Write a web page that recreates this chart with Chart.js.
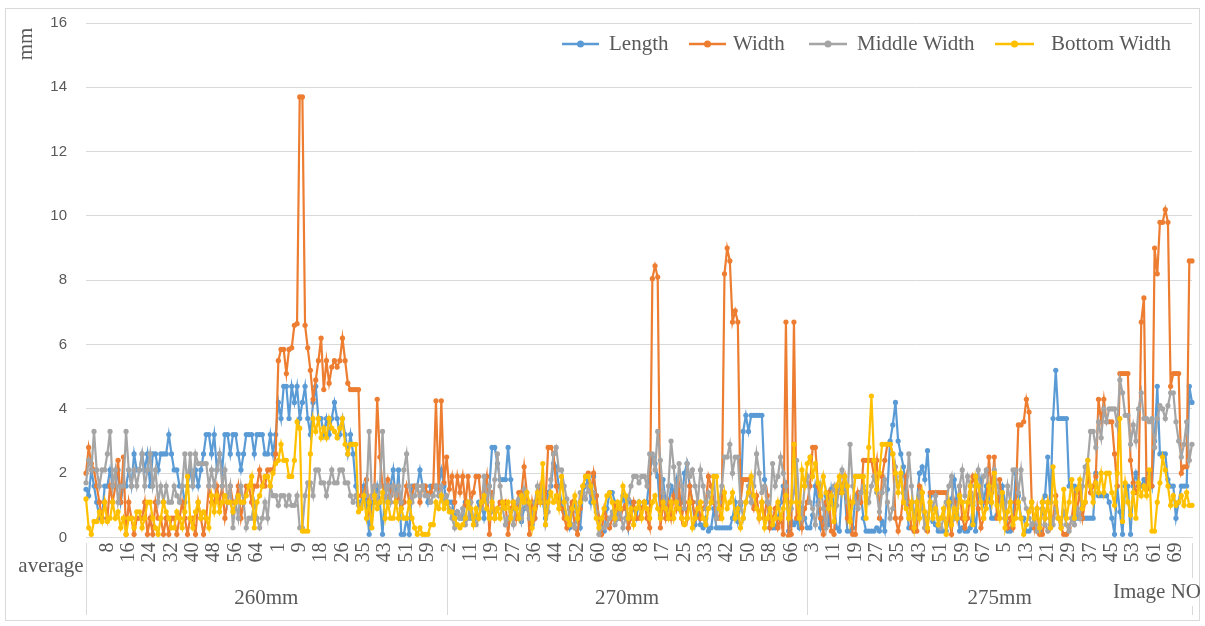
<!DOCTYPE html>
<html>
<head>
<meta charset="utf-8">
<script src="https://cdn.jsdelivr.net/npm/chart.js@4.4.0/dist/chart.umd.min.js"></script>
<style>
  html, body { margin: 0; padding: 0; background: #fff; }
</style>
</head>
<body>
<canvas id="widthChart" width="1205" height="626"></canvas>
<script>
const lengthMm = [
  1.5, 1.3, 2.1, 1.6, 1.1, 0.6, 0.6, 1.6, 1.6, 2.1,
  1.6, 1.6, 2.1, 1.1, 1.6, 1.6, 2.1, 1.6, 2.6, 2.1,
  2.1, 2.6, 2.1, 2.6, 1.6, 2.6, 2.6, 2.1, 2.6, 2.6,
  2.6, 3.2, 2.6, 2.1, 2.1, 1.6, 1.6, 1.1, 1.6, 2.1,
  1.6, 2.1, 1.6, 2.1, 2.6, 3.2, 3.2, 2.6, 3.2, 2.1,
  2.6, 2.1, 3.2, 3.2, 2.6, 3.2, 3.2, 2.6, 2.1, 2.6,
  3.2, 3.2, 3.2, 2.6, 3.2, 3.2, 3.2, 2.6, 2.6, 3.2,
  2.6, 3.2, 4.2, 3.7, 4.7, 4.7, 3.7, 4.7, 4.2, 4.7,
  3.7, 4.2, 4.7, 3.7, 3.2, 4.2, 4.7, 3.7, 3.7, 3.2,
  3.7, 3.2, 3.7, 4.2, 3.7, 3.2, 3.7, 3.2, 2.6, 3.2,
  2.6, 1.6, 1.1, 1.1, 1.6, 1.1, 0.1, 1.1, 1.1, 1.6,
  1.1, 0.1, 1.6, 1.1, 1.6, 2.1, 1.1, 2.1, 0.1, 0.1,
  0.6, 0.1, 1.6, 1.6, 1.6, 2.1, 1.6, 1.6, 1.1, 1.6,
  1.6, 1.6, 1.6, 2.1, 1.6, 1.1, 1.1, 1.1, 0.6, 0.8,
  0.6, 0.6, 1.1, 1.1, 0.6, 0.6, 0.6, 1.1, 1.1, 0.6,
  1.1, 1.6, 2.8, 2.8, 2.3, 1.8, 1.8, 1.8, 2.8, 1.8,
  0.9, 0.9, 1.1, 0.5, 0.9, 1.1, 0.6, 0.4, 0.6, 1.1,
  1.2, 1.1, 0.6, 1.4, 1.6, 2.3, 2.2, 1.6, 1.1, 0.8,
  0.6, 0.3, 0.8, 1.1, 0.5, 0.3, 1.4, 1.6, 1.8, 1.1,
  1.9, 1.3, 0.6, 0.3, 0.2, 0.9, 1.4, 1.4, 1.1, 0.6,
  0.9, 1.3, 0.9, 0.3, 1.1, 0.9, 0.6, 1.1, 0.9, 1.1,
  1.1, 2.0, 2.5, 2.3, 1.9, 0.7, 1.8, 1.1, 0.9, 1.6,
  1.4, 1.8, 0.9, 1.1, 2.0, 2.3, 1.6, 1.1, 0.4, 0.8,
  0.4, 0.3, 0.6, 0.2, 0.3, 0.9, 0.3, 0.3, 0.3, 0.3,
  0.3, 0.3, 0.6, 1.1, 0.5, 1.0, 3.3, 3.8, 3.3, 3.8,
  3.8, 3.8, 3.8, 3.8, 1.8, 1.1, 0.3, 0.3, 0.3, 0.6,
  1.1, 1.6, 1.7, 0.2, 0.5, 0.4, 0.5, 0.3, 0.9, 0.6,
  0.3, 0.3, 0.7, 1.6, 1.1, 0.3, 0.6, 1.3, 0.4, 1.5,
  1.0, 0.3, 0.2, 1.6, 1.4, 0.2, 0.2, 0.3, 1.3, 1.1,
  1.4, 0.6, 0.2, 0.2, 0.2, 0.2, 0.3, 0.2, 0.5, 0.2,
  1.5, 3.0, 3.5, 4.2, 3.0, 2.6, 2.2, 1.2, 0.3, 0.3,
  0.2, 1.1, 2.0, 2.2, 1.8, 2.7, 1.3, 0.5, 0.4, 0.2,
  0.2, 0.2, 0.2, 0.5, 1.2, 1.8, 1.2, 0.2, 0.3, 0.2,
  0.2, 0.3, 1.0, 0.2, 1.3, 1.8, 1.1, 1.6, 1.3, 0.6,
  0.6, 0.7, 1.3, 1.6, 1.1, 0.2, 0.2, 0.6, 2.0, 1.3,
  0.6, 0.6, 0.2, 0.2, 0.3, 0.6, 0.2, 0.2, 1.1, 1.3,
  2.5, 1.1, 3.7, 5.2, 3.7, 3.7, 3.7, 3.7, 1.6, 1.6,
  1.6, 0.6, 0.6, 0.6, 0.6, 0.6, 0.6, 0.6, 2.0, 1.3,
  1.3, 1.3, 1.3, 1.1, 0.6, 0.1, 1.6, 0.8, 0.1, 1.6,
  1.6, 0.1, 1.6, 2.0, 1.6, 1.6, 1.8, 1.6, 2.0, 1.6,
  3.0, 4.7, 2.6, 2.6, 2.6, 1.8, 1.6, 1.6, 0.6, 1.1,
  1.6, 1.6, 1.6, 4.7, 4.2
];
const widthMm = [
  2.0, 2.8, 2.3, 2.1, 1.6, 1.1, 0.6, 1.1, 0.6, 1.6,
  1.1, 1.6, 2.4, 1.1, 2.5, 0.1, 1.1, 0.6, 0.1, 0.6,
  0.6, 0.6, 1.1, 0.1, 0.6, 0.1, 1.1, 0.6, 0.6, 0.1,
  0.6, 0.1, 0.6, 0.6, 0.1, 0.6, 1.1, 0.6, 0.1, 0.6,
  0.6, 0.1, 1.1, 0.6, 0.1, 0.6, 1.6, 1.1, 1.1, 1.6,
  1.1, 1.6, 0.6, 1.1, 1.6, 1.1, 1.1, 1.6, 0.6, 1.1,
  1.6, 1.6, 1.1, 1.6, 1.6, 2.1, 1.6, 1.6, 2.1, 2.1,
  2.1, 2.6, 5.5, 5.85, 5.85, 5.1, 5.85, 5.9, 6.6, 6.65,
  13.7, 13.7, 6.6, 5.9, 5.2, 4.3, 4.9, 5.5, 6.2, 4.6,
  5.5, 4.8, 5.3, 5.5, 5.3, 5.5, 6.2, 5.5, 4.8, 4.6,
  4.6, 4.6, 4.6, 1.3, 1.3, 1.8, 0.8, 1.3, 1.6, 4.3,
  2.5, 1.6, 1.3, 1.8, 1.3, 1.6, 1.1, 1.3, 0.9, 1.1,
  1.6, 1.1, 1.3, 1.6, 1.6, 1.1, 1.6, 1.6, 1.3, 1.4,
  1.6, 4.25, 1.5, 4.25, 1.7, 2.5, 1.5, 1.9, 1.1, 1.9,
  1.4, 1.9, 1.0, 1.9, 1.1, 1.4, 1.9, 1.9, 1.0, 1.4,
  1.9, 0.1, 1.4, 0.6, 0.9, 1.1, 0.9, 1.1, 0.1, 0.9,
  1.1, 0.6, 1.4, 1.4, 2.2, 1.4, 0.1, 1.1, 0.6, 1.1,
  1.6, 1.1, 1.1, 2.8, 2.8, 2.6, 1.6, 1.1, 0.9, 0.6,
  0.3, 0.9, 1.1, 0.3, 0.1, 0.9, 1.6, 1.9, 2.0, 1.4,
  2.0, 1.3, 0.6, 0.1, 0.9, 0.6, 0.3, 0.6, 1.0, 0.9,
  0.6, 0.9, 1.0, 0.3, 0.6, 1.1, 0.6, 0.6, 0.9, 1.1,
  0.6, 0.3, 8.05, 8.45, 8.1, 0.3, 1.1, 0.6, 1.1, 0.6,
  1.3, 0.9, 1.6, 0.6, 1.1, 0.6, 1.6, 1.1, 0.6, 1.1,
  0.6, 0.9, 1.1, 1.9, 1.6, 1.1, 0.6, 0.6, 1.1, 8.2,
  9.0, 8.6, 6.7, 7.05, 6.7, 1.1, 1.8, 1.8, 1.8, 1.3,
  0.9, 1.3, 0.6, 1.1, 0.6, 1.3, 0.3, 0.6, 0.9, 0.3,
  0.6, 0.1, 6.7, 0.05, 0.1, 6.7, 0.6, 1.1, 0.3, 0.9,
  1.1, 1.6, 2.8, 2.8, 1.6, 0.6, 0.1, 1.1, 1.4, 0.2,
  0.1, 1.6, 1.4, 1.6, 1.9, 0.6, 1.1, 0.1, 0.1, 1.4,
  1.1, 2.4, 2.4, 2.4, 2.4, 1.9, 2.4, 0.6, 1.9, 2.4,
  2.9, 2.9, 2.6, 0.6, 0.2, 0.6, 1.4, 1.9, 1.1, 0.3,
  0.2, 0.2, 1.6, 1.4, 0.3, 0.2, 1.4, 1.4, 1.4, 1.4,
  1.4, 1.4, 1.4, 0.6, 0.1, 1.1, 0.6, 1.6, 0.6, 0.3,
  0.6, 1.4, 1.9, 1.6, 0.9, 0.3, 0.6, 1.1, 2.5, 1.4,
  2.5, 0.6, 1.8, 1.1, 0.6, 0.3, 0.6, 0.3, 1.1, 3.5,
  3.5, 3.6, 4.3, 3.9, 1.1, 0.3, 0.9, 0.1, 0.1, 0.6,
  1.1, 0.3, 0.6, 1.3, 0.6, 0.3, 0.1, 0.1, 0.3, 0.6,
  1.3, 0.9, 1.4, 0.6, 1.1, 2.0, 1.4, 1.6, 1.9, 4.3,
  3.6, 4.3, 3.6, 3.6, 3.6, 2.6, 1.6, 5.1, 5.1, 5.1,
  5.1, 2.4, 1.7, 1.4, 1.6, 6.7, 7.45, 1.5, 1.6, 1.6,
  9.0, 8.2, 9.8, 9.8, 10.2, 9.8, 4.7, 5.1, 5.1, 5.1,
  2.0, 2.2, 2.2, 8.6, 8.6
];
const middleWidthMm = [
  1.7, 2.4, 2.1, 3.3, 2.1, 1.6, 2.1, 2.1, 2.6, 3.3,
  1.6, 2.1, 1.1, 1.6, 1.6, 3.3, 2.1, 1.6, 2.1, 1.6,
  2.1, 2.6, 1.6, 2.1, 2.6, 1.6, 2.1, 1.1, 1.6, 1.1,
  1.6, 1.1, 1.1, 1.6, 1.3, 1.1, 1.6, 2.6, 1.6, 2.6,
  1.6, 2.6, 2.3, 2.3, 2.3, 2.3, 1.6, 2.1, 1.6, 2.1,
  2.6, 1.6, 2.1, 1.1, 1.6, 0.3, 1.1, 0.6, 1.6, 1.1,
  0.3, 0.6, 0.6, 1.1, 0.6, 0.3, 0.6, 1.1, 0.6, 1.6,
  1.3, 1.3, 1.0, 1.3, 1.3, 1.0, 1.3, 1.0, 1.0, 1.3,
  0.3, 0.3, 1.3, 1.7, 1.7, 1.3, 2.1, 2.1, 1.7, 1.7,
  1.3, 1.7, 2.1, 1.7, 1.7, 2.1, 2.1, 1.7, 1.7, 1.3,
  1.1, 1.3, 1.0, 1.0, 1.3, 1.3, 3.3, 1.3, 1.6, 1.1,
  1.6, 3.3, 1.3, 1.6, 1.1, 1.6, 1.3, 1.6, 1.1, 2.1,
  2.6, 1.6, 1.1, 1.3, 1.6, 1.3, 1.6, 1.3, 1.3, 1.1,
  1.3, 1.6, 1.3, 1.6, 1.1, 1.3, 0.9, 0.6, 0.3, 0.8,
  0.6, 0.9, 0.4, 0.6, 1.1, 0.6, 0.4, 0.6, 0.9, 1.9,
  1.1, 1.6, 0.8, 1.8, 2.6, 1.6, 0.9, 0.4, 0.6, 0.8,
  0.4, 1.1, 1.2, 0.6, 1.5, 0.9, 0.6, 0.6, 1.1, 1.6,
  1.1, 1.5, 0.4, 0.8, 1.8, 2.6, 2.8, 2.1, 2.1, 1.6,
  1.2, 0.6, 0.4, 0.3, 0.8, 1.4, 1.4, 1.2, 1.6, 1.4,
  1.4, 0.8, 0.1, 0.3, 0.3, 0.4, 0.6, 0.8, 0.4, 0.6,
  0.9, 0.3, 0.6, 1.2, 1.6, 1.9, 1.9, 1.7, 1.9, 1.9,
  1.6, 2.6, 2.6, 2.1, 3.3, 2.4, 1.4, 0.9, 1.6, 3.0,
  2.2, 1.1, 2.3, 1.6, 0.9, 2.3, 1.9, 2.1, 1.6, 1.1,
  2.1, 1.6, 0.9, 1.4, 1.1, 1.9, 0.6, 1.1, 1.6, 2.5,
  2.5, 2.9, 2.0, 2.5, 2.5, 1.1, 0.6, 1.1, 1.6, 1.1,
  1.6, 2.6, 2.0, 1.4, 1.6, 1.1, 0.8, 2.3, 1.6, 1.9,
  2.5, 2.0, 1.6, 0.6, 0.9, 1.4, 2.4, 1.1, 0.6, 1.6,
  1.9, 1.1, 0.9, 0.4, 1.0, 1.6, 0.9, 0.3, 1.1, 1.3,
  1.6, 1.0, 1.6, 2.1, 1.6, 1.1, 2.9, 1.6, 1.1, 0.9,
  1.4, 1.6, 1.4, 1.1, 1.6, 1.9, 1.4, 0.8, 1.4, 1.8,
  1.1, 0.6, 0.9, 2.2, 1.6, 1.9, 1.4, 1.1, 2.6, 1.6,
  0.6, 1.1, 1.4, 0.9, 0.3, 0.6, 1.1, 0.9, 1.3, 0.6,
  0.3, 0.6, 1.1, 1.6, 1.9, 0.6, 0.9, 1.6, 2.1, 1.3,
  1.9, 1.6, 1.1, 1.6, 2.1, 1.3, 1.9, 2.1, 1.6, 1.1,
  2.1, 1.6, 1.4, 1.1, 0.6, 1.6, 1.1, 2.1, 2.1, 1.4,
  2.1, 1.2, 0.9, 0.6, 0.4, 0.6, 0.2, 0.4, 0.9, 0.4,
  0.2, 0.6, 0.4, 0.9, 0.6, 0.4, 0.8, 0.4, 0.2, 0.6,
  0.4, 0.9, 0.6, 1.6, 2.2, 2.4, 3.3, 3.3, 2.8, 3.6,
  3.1, 4.0, 3.6, 4.0, 4.0, 4.0, 3.5, 4.9, 4.5, 3.8,
  3.8, 2.9, 3.5, 3.0, 4.0, 4.5, 3.7, 3.7, 3.6, 3.7,
  2.8, 3.7, 4.1, 4.0, 3.7, 4.1, 4.5, 4.5, 3.6, 3.0,
  2.5, 2.9, 3.6, 2.4, 2.9
];
const bottomWidthMm = [
  1.2, 0.3, 0.1, 0.5, 0.5, 0.8, 0.5, 1.1, 0.5, 0.6,
  1.1, 0.6, 0.8, 0.3, 0.6, 0.1, 0.6, 0.6, 0.3, 0.8,
  0.8, 0.3, 0.6, 1.1, 1.1, 0.6, 0.3, 0.1, 0.6, 1.1,
  0.8, 0.6, 0.3, 0.3, 0.8, 0.6, 0.3, 0.8, 1.9, 0.6,
  0.3, 0.8, 1.1, 0.6, 0.8, 0.6, 0.3, 1.3, 0.8, 1.3,
  0.8, 1.1, 1.3, 1.1, 1.1, 0.8, 1.1, 1.3, 1.1, 1.1,
  1.3, 1.6, 1.9, 0.3, 1.1, 1.3, 1.6, 1.9, 1.9, 1.6,
  2.0, 2.3, 2.4, 2.9, 2.4, 2.4, 1.9, 1.9, 2.4, 3.6,
  3.4, 0.2, 0.2, 0.2, 2.6, 3.7, 3.3, 3.7, 3.1, 3.4,
  3.1, 3.7, 3.4, 3.3, 3.1, 3.4, 3.7, 2.9, 2.6, 2.9,
  2.9, 2.9, 0.8, 0.9, 1.3, 0.6, 1.1, 0.3, 1.3, 0.9,
  1.1, 1.4, 0.6, 1.1, 0.6, 0.6, 1.1, 0.6, 0.9, 0.6,
  0.6, 1.1, 0.6, 0.3, 0.1, 0.3, 0.1, 0.1, 0.1, 0.4,
  0.4, 1.1, 0.9, 1.3, 0.9, 1.1, 0.8, 0.8, 0.6, 0.4,
  0.3, 0.4, 0.6, 1.1, 0.9, 0.4, 0.9, 0.6, 1.1, 1.3,
  0.9, 0.6, 1.1, 0.6, 0.9, 0.6, 1.1, 0.9, 1.1, 0.6,
  1.1, 0.9, 0.6, 1.3, 1.1, 1.4, 1.1, 0.3, 0.9, 1.4,
  1.1, 2.3, 0.4, 1.1, 1.4, 1.1, 1.3, 0.9, 1.9, 1.1,
  0.6, 0.4, 0.9, 1.3, 0.6, 1.1, 1.6, 1.9, 1.9, 1.6,
  1.1, 0.6, 0.3, 0.6, 0.9, 1.3, 1.4, 1.1, 0.6, 1.1,
  0.9, 1.6, 1.3, 0.6, 0.9, 0.4, 0.9, 1.1, 0.6, 1.1,
  0.9, 0.6, 1.1, 1.3, 0.9, 0.6, 1.1, 0.9, 0.6, 1.1,
  0.6, 1.1, 0.9, 0.6, 0.4, 0.6, 1.1, 0.3, 0.6, 0.9,
  1.1, 0.6, 0.4, 0.9, 1.1, 1.9, 1.9, 0.9, 0.6, 1.4,
  0.9, 1.1, 1.4, 0.6, 0.9, 0.3, 0.6, 1.1, 1.4, 1.9,
  1.3, 0.9, 0.6, 1.1, 0.3, 0.6, 0.9, 0.4, 0.6, 1.1,
  0.6, 0.9, 1.3, 0.6, 1.1, 2.9, 1.1, 0.6, 2.1, 1.6,
  2.3, 2.5, 1.9, 2.3, 1.7, 1.3, 1.9, 1.4, 0.9, 1.3,
  0.5, 1.6, 1.9, 1.4, 1.9, 1.6, 0.5, 1.1, 1.9, 1.9,
  1.9, 1.9, 0.6, 2.8, 4.4, 2.4, 1.5, 2.0, 2.9, 2.9,
  2.9, 2.9, 2.6, 2.0, 1.4, 2.0, 1.1, 0.9, 0.6, 1.1,
  0.3, 1.1, 0.6, 1.4, 0.8, 0.3, 1.1, 0.6, 0.9, 0.4,
  0.6, 0.9, 0.1, 1.1, 0.4, 0.9, 0.6, 1.3, 1.1, 0.6,
  1.1, 1.6, 0.4, 1.9, 1.6, 1.1, 0.6, 0.9, 1.6, 1.1,
  2.0, 1.0, 0.6, 1.4, 0.3, 0.8, 1.1, 0.4, 0.6, 1.1,
  0.6, 0.1, 0.4, 0.8, 1.1, 0.6, 0.9, 0.3, 1.1, 0.6,
  1.1, 0.3, 2.2, 1.1, 0.6, 0.3, 1.5, 0.6, 1.1, 1.8,
  0.6, 1.5, 1.8, 0.9, 1.1, 2.4, 1.6, 1.1, 1.7, 1.4,
  2.0, 1.4, 2.0, 2.0, 1.4, 1.0, 2.0, 3.7, 0.5, 1.7,
  1.1, 0.7, 1.4, 0.6, 1.7, 1.3, 1.6, 1.3, 2.1, 0.2,
  0.2, 1.1, 1.7, 2.5, 2.1, 1.6, 1.0, 1.3, 1.0, 1.1,
  1.3, 1.0, 1.4, 1.0, 1.0
];

// image numbering: each run counts 1..last, a few image numbers are missing
const groupNames = ["260mm", "270mm", "275mm"];
const runs = [
  { group: 0, last: 71, missing: [] },
  { group: 0, last: 65, missing: [13, 30] },
  { group: 1, last: 68, missing: [6, 32] },
  { group: 1, last: 71, missing: [12, 38] },
  { group: 2, last: 70, missing: [] },
  { group: 2, last: 75, missing: [] },
];
const seriesNames = ["Length", "Width", "Middle Width", "Bottom Width"];
const seriesColors = ["#5B9BD5", "#ED7D31", "#A5A5A5", "#FFC000"];
const yTicks = [0, 2, 4, 6, 8, 10, 12, 14, 16];

const labels = ["average"];
const groupOf = [-1];
runs.forEach(r => {
  for (let n = 1; n <= r.last; n++) {
    if (r.missing.includes(n)) continue;
    labels.push(String(n));
    groupOf.push(r.group);
  }
});
const groupStart = groupNames.map((_, g) => groupOf.indexOf(g));

const textGray = "#595959";
const serif = "'Liberation Serif', 'Times New Roman', serif";

const extras = {
  id: "extras",
  afterDraw(chart) {
    const { ctx, chartArea, scales } = chart;
    const xs = scales.x;
    ctx.save();
    ctx.strokeStyle = "#d9d9d9";
    ctx.lineWidth = 1;
    ctx.strokeRect(5.5, 8.5, 1194, 612);

    // group dividers under the axis
    const edges = groupStart.map(i => xs.getPixelForValue(i));
    edges[0] = chartArea.left;
    edges.push(chartArea.right);
    edges.forEach((px, k) => {
      const x = Math.round(px) + 0.5;
      ctx.beginPath();
      if (k === edges.length - 1) {
        ctx.moveTo(x, 543); ctx.lineTo(x, 578);
        ctx.moveTo(x, 606); ctx.lineTo(x, 615);
      } else {
        ctx.moveTo(x, 543); ctx.lineTo(x, 615);
      }
      ctx.stroke();
    });

    ctx.fillStyle = textGray;
    ctx.font = "21px " + serif;
    ctx.textAlign = "center";
    ctx.textBaseline = "middle";
    groupNames.forEach((name, g) => {
      ctx.fillText(name, (edges[g] + edges[g + 1]) / 2, 598);
    });
    ctx.fillText(labels[0], 51, 566);
    ctx.fillText("Image NO", 1157, 592);

    // y title
    ctx.save();
    ctx.translate(26, 44);
    ctx.rotate(-Math.PI / 2);
    ctx.fillText("mm", 0, 0);
    ctx.restore();

    // legend
    const legendX = [[562, 599, 609], [689, 726, 733], [809, 847, 857], [995, 1034, 1051]];
    const ly = 44;
    seriesNames.forEach((name, i) => {
      const [a, b, t] = legendX[i];
      ctx.strokeStyle = seriesColors[i];
      ctx.lineWidth = 2.5;
      ctx.beginPath(); ctx.moveTo(a, ly); ctx.lineTo(b, ly); ctx.stroke();
      ctx.fillStyle = seriesColors[i];
      ctx.beginPath(); ctx.arc((a + b) / 2, ly, 3.5, 0, Math.PI * 2); ctx.fill();
      ctx.fillStyle = textGray;
      ctx.textAlign = "left";
      ctx.fillText(name, t, ly);
    });
    ctx.restore();
  }
};

const seriesData = [lengthMm, widthMm, middleWidthMm, bottomWidthMm];
const ctx = document.getElementById("widthChart").getContext("2d");
const widthChart = new Chart(ctx, {
  type: "line",
  data: {
    labels: labels,
    datasets: seriesNames.map((name, i) => ({
      label: name,
      data: seriesData[i],
      borderColor: seriesColors[i],
      backgroundColor: seriesColors[i],
      pointBackgroundColor: seriesColors[i],
      pointBorderWidth: 0,
      pointRadius: 2.6,
      borderWidth: 2.2,
      tension: 0,
      order: 3 - i,
    })),
  },
  options: {
    responsive: false,
    animation: false,
    events: [],
    layout: { padding: { top: 23, right: 13, left: 0, bottom: 0 } },
    plugins: { legend: { display: false }, tooltip: { enabled: false } },
    scales: {
      x: {
        offset: false,
        grid: { display: false, drawTicks: false },
        border: { display: true, color: "#d9d9d9" },
        ticks: {
          autoSkip: false,
          minRotation: 90,
          maxRotation: 90,
          padding: 5,
          color: textGray,
          font: { family: serif, size: 20 },
          callback: function (v, i) {
            return i > 0 && i % 8 === 0 ? this.getLabelForValue(v) : "";
          },
        },
        afterFit: s => { s.height = 88.5; s.paddingLeft = 0; s.paddingRight = 0; },
      },
      y: {
        min: 0,
        max: 16,
        afterBuildTicks: s => { s.ticks = yTicks.map(v => ({ value: v })); },
        grid: { color: "#d9d9d9", drawTicks: false },
        border: { display: false },
        ticks: {
          padding: 19,
          color: textGray,
          font: { family: "'Liberation Sans', Arial, sans-serif", size: 15 },
        },
        afterFit: s => { s.width = 86; s.paddingTop = 0; s.paddingBottom = 0; },
      },
    },
  },
  plugins: [extras],
});
</script>
</body>
</html>
